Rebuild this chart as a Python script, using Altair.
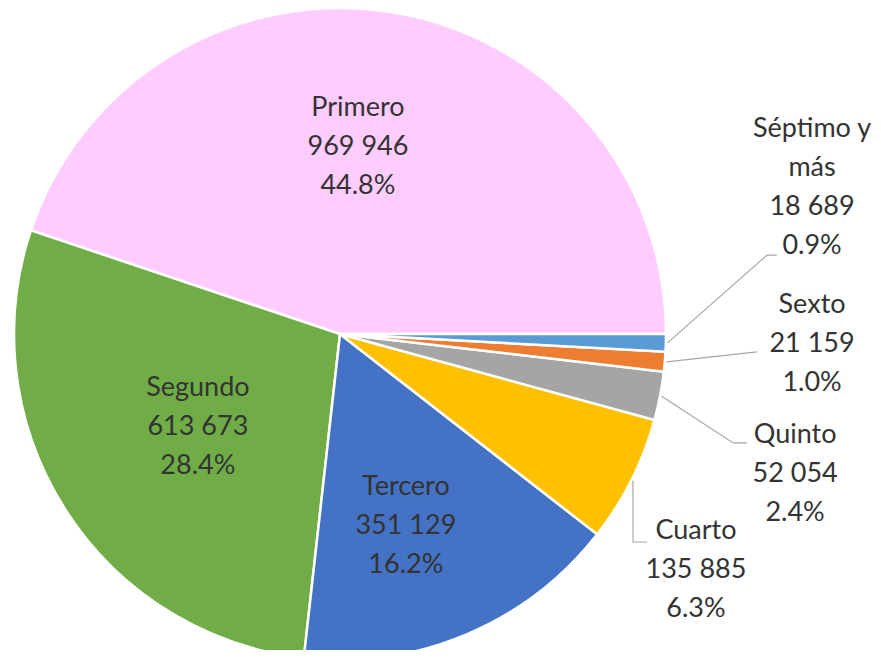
import math
import altair as alt
import pandas as pd

# ---- data ----
categories = ["Primero", "Segundo", "Tercero", "Cuarto", "Quinto", "Sexto", "Séptimo y más"]
values = [969946, 613673, 351129, 135885, 52054, 21159, 18689]
percents = [44.8, 28.4, 16.2, 6.3, 2.4, 1.0, 0.9]
label_names = ["Primero", "Segundo", "Tercero", "Cuarto", "Quinto", "Sexto", "Séptimo y\nmás"]

# ---- style / layout ----
colors = ["#FFCCFF", "#70AD47", "#4472C4", "#FFC000", "#A5A5A5", "#ED7D31", "#5B9BD5"]
# label block centres, in pie-radius units relative to the pie centre (y up)
label_pos = [(0.055, 0.574), (-0.436, -0.285), (0.202, -0.589), (1.092, -0.724),
             (1.396, -0.429), (1.448, -0.031), (1.448, 0.448)]
# leader line bends/ends (same units); start point is derived from the slice
leader_pts = {
    "Cuarto": [(0.899, -0.638), (0.942, -0.638)],
    "Quinto": [(1.206, -0.334), (1.248, -0.334)],
    "Sexto": [(1.279, -0.055)],
    "Séptimo y más": [(1.310, 0.242), (1.340, 0.242)],
}

W, H = 865, 642
CX, CY, R = 332, 326, 326
LH = 39

total = sum(values)
n = len(categories)

# slice mid angles: clockwise from 3 o'clock, in reversed category order
mid = {}
start = math.pi / 2
for c, v in reversed(list(zip(categories, values))):
    span = v / total * 2 * math.pi
    mid[c] = start + span / 2
    start += span

pie_df = pd.DataFrame({
    "cat": categories,
    "value": values,
    "ord": [n - 1 - i for i in range(n)],
    "cx": [0.0] * n,
    "cy": [0.0] * n,
})

lab_rows = []
for i, c in enumerate(categories):
    v = values[i]
    txt = f"{label_names[i]}\n{v:,}".replace(",", " ") + f"\n{percents[i]:.1f}%"
    nlines = txt.count("\n") + 1
    # first line sits at y; shift so the block is centred on label_pos
    ly = label_pos[i][1] + (nlines - 1) * LH / 2 / R
    lab_rows.append({"cat": c, "label": txt, "lx": label_pos[i][0], "ly": ly})
lab_df = pd.DataFrame(lab_rows)

line_rows = []
for c, pts in leader_pts.items():
    a = mid[c]
    line_rows.append({"cat": c, "k": 0, "px": 1.005 * math.sin(a), "py": 1.005 * math.cos(a)})
    for k, (px, py) in enumerate(pts, start=1):
        line_rows.append({"cat": c, "k": k, "px": px, "py": py})
line_df = pd.DataFrame(line_rows)

xs = alt.Scale(domain=[-CX / R, (W - CX) / R], nice=False, zero=False)
ys = alt.Scale(domain=[-(H - CY) / R, CY / R], nice=False, zero=False)

pie = alt.Chart(pie_df).mark_arc(outerRadius=R, stroke="white", strokeWidth=2.5).encode(
    theta=alt.Theta("value:Q", stack=True,
                    scale=alt.Scale(range=[math.pi / 2, math.pi / 2 + 2 * math.pi])),
    color=alt.Color("cat:N", scale=alt.Scale(domain=categories, range=colors), legend=None),
    order=alt.Order("ord:Q", sort="ascending"),
    x=alt.X("cx:Q", scale=xs, axis=None),
    y=alt.Y("cy:Q", scale=ys, axis=None),
)

lines = alt.Chart(line_df).mark_line(color="#A6A6A6", strokeWidth=1.2).encode(
    x=alt.X("px:Q", scale=xs, axis=None),
    y=alt.Y("py:Q", scale=ys, axis=None),
    detail="cat:N",
    order="k:Q",
)

labels = alt.Chart(lab_df).mark_text(
    font="Lato", fontSize=27, lineHeight=LH, lineBreak="\n",
    color="#333333", align="center", baseline="middle",
).encode(
    x=alt.X("lx:Q", scale=xs, axis=None),
    y=alt.Y("ly:Q", scale=ys, axis=None),
    text="label:N",
)

chart = alt.layer(pie, lines, labels).properties(
    width=W, height=H, padding=0, autosize=alt.AutoSizeParams(type="none"),
    background="white",
).configure_view(stroke=None)

chart.save("out.html", embed_options={"renderer": "svg", "actions": False})
